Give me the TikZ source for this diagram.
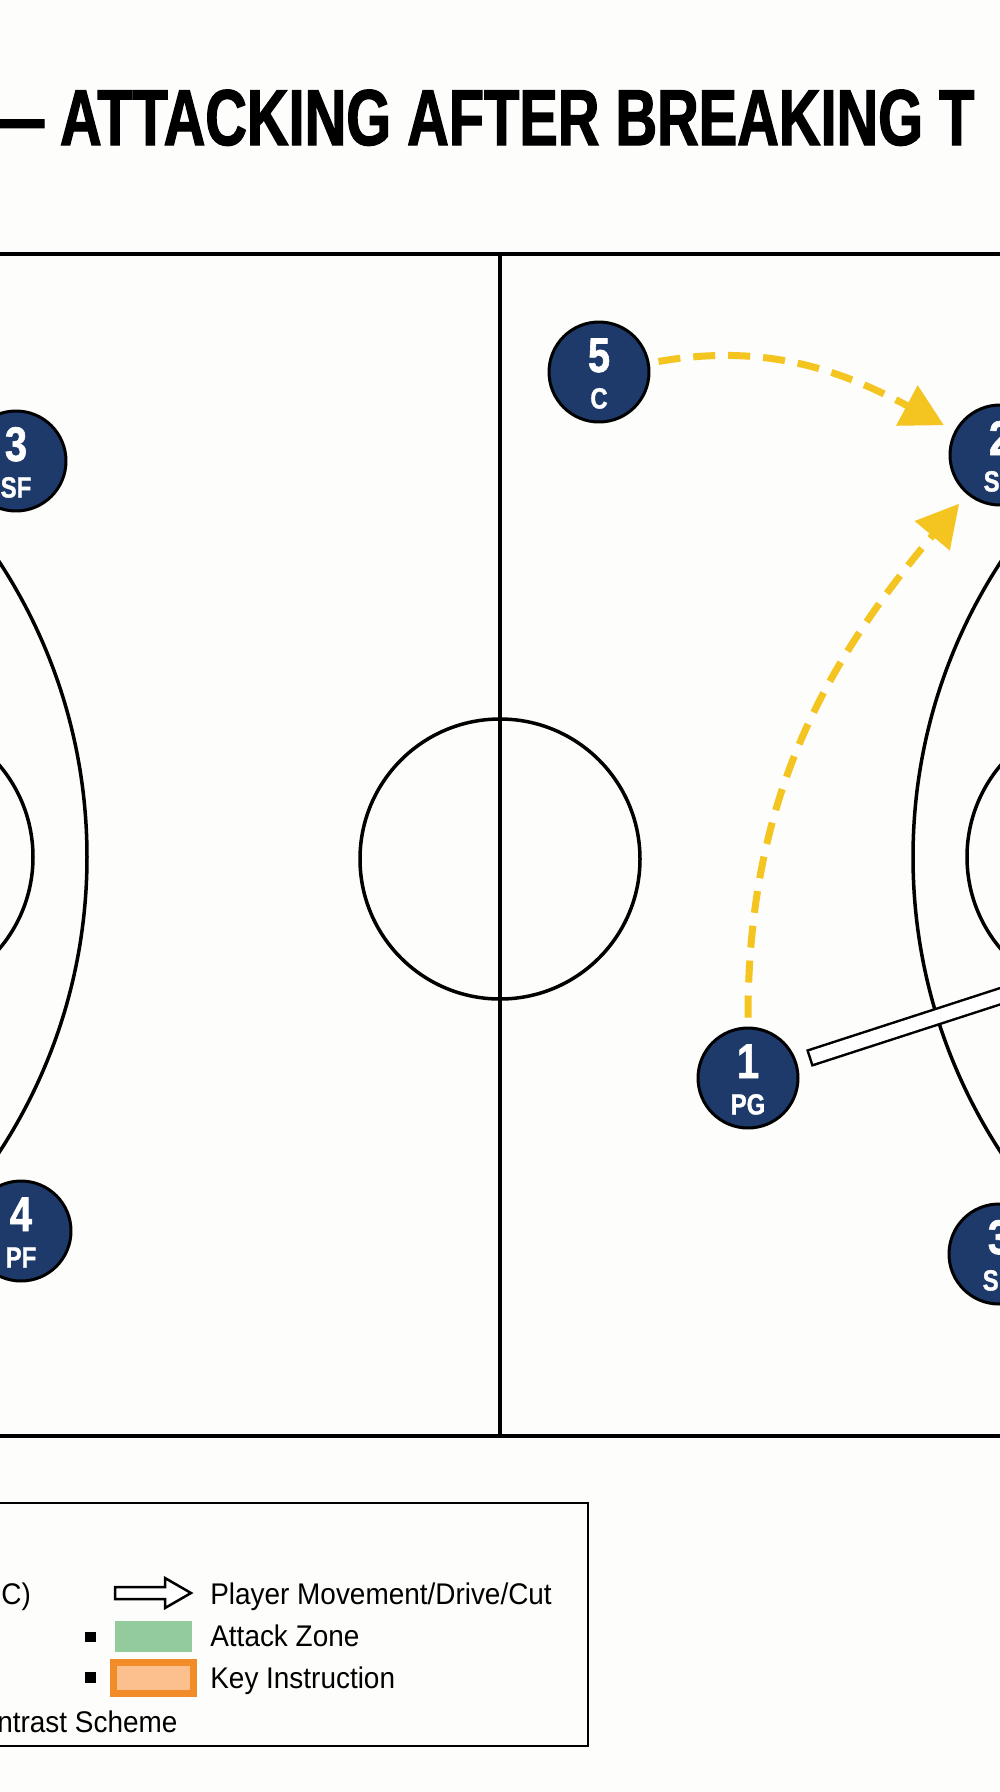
\documentclass[tikz,border=0pt]{standalone}
\usepackage{fontspec}
\setmainfont{Liberation Sans}
\newfontfamily\titlefont{Liberation Sans}[FakeStretch=0.728, FakeBold=1.6]
\newfontfamily\playerfont{Liberation Sans}[FakeStretch=0.82, FakeBold=1.2]
\newfontfamily\legendfont{Liberation Sans}[FakeStretch=0.935]
\usetikzlibrary{arrows.meta,calc}
\definecolor{navy}{HTML}{1D3A6B}
\definecolor{passyellow}{HTML}{F4C520}
\definecolor{zonegreen}{HTML}{93CB9C}
\definecolor{keyorange}{HTML}{F28C28}
\definecolor{keyfill}{HTML}{FCC08E}
\definecolor{paper}{HTML}{FDFDFB}

\begin{document}
\begin{tikzpicture}[x=0.02cm, y=0.02cm,
  court/.style={line width=0.07cm},
  player/.style={circle, draw=black, line width=0.06cm, fill=navy, minimum size=2cm, inner sep=0pt},
  plnum/.style={text=white, inner sep=0pt, anchor=base, font=\playerfont\bfseries\fontsize{27.7}{30}\selectfont},
  plrole/.style={text=white, inner sep=0pt, font=\playerfont\bfseries\fontsize{16.6}{18}\selectfont},
  pass/.style={draw=passyellow, line width=0.14cm, dash pattern=on 0.44cm off 0.26cm,
    -{Triangle[length=0.84cm, width=0.88cm]}, shorten <=0.18cm, shorten >=0.24cm},
  lgd/.style={anchor=base west, inner sep=0pt, font=\legendfont\fontsize{17}{20}\selectfont}]

\useasboundingbox (0,0) rectangle (1000,-1792);
\clip (0,0) rectangle (1000,-1792);
\fill[paper] (0,0) rectangle (1000,-1792);

\node[anchor=base west, inner sep=0pt, font=\titlefont\bfseries\fontsize{45.1}{50}\selectfont] (title) at (-14,-145) {— ATTACKING AFTER BREAKING T};

\draw[court] (-10,-254) -- (1010,-254);
\draw[court] (-10,-1436) -- (1010,-1436);
\draw[court] (500,-254) -- (500,-1436);
\draw[court] (500,-859) circle (140);
\draw[court] (-453,-857) circle (540);
\draw[court] (1453,-857) circle (540);
\draw[court] (-109,-857) circle (142);
\draw[court] (1109,-857) circle (142);

\foreach \name/\x/\y/\n/\r/\ra in {p3l/16/-461/3/SF/base, p4l/21/-1231/4/PF/base,
  p5/599/-372/5/C/base, p1/748/-1078/1/PG/base,
  p2/1000/-455/2/S/base east, p3r/999/-1254/3/S/base east}
{
  \node[player] (\name) at (\x,\y) {};
  \node[plnum] (\name n) at (\name.center) {\n};
  \node[plrole, anchor=\ra] (\name r) at ([yshift=-0.73cm]\name.center) {\r};
}

\coordinate (drvend) at (1189,-935);
\draw[line width=0.36cm] ($(p1)!1.28cm!(drvend)$) -- (drvend);
\draw[white, line width=0.26cm] ($(p1)!1.33cm!(drvend)$) -- (drvend);

\draw[pass] (p5) to[out=10, in=152] (p2);
\draw[pass] (p1) to[out=90, in=230] (p2);

\draw[line width=0.04cm] (-10,-1503) rectangle (588,-1746);
\draw[line width=0.05cm, fill=white] (115,-1587) -- (165,-1587) -- (165,-1578) -- (191,-1593)
  -- (165,-1608) -- (165,-1599) -- (115,-1599) -- cycle;
\fill (85,-1632) rectangle (96,-1642);
\fill (85,-1672) rectangle (96,-1683);
\fill[zonegreen] (115,-1621) rectangle (192,-1652);
\draw[keyorange, line width=0.14cm, fill=keyfill] (113.5,-1662.5) rectangle (193.5,-1693.5);

\node[lgd] (lgdpos) at (1,-1604) {C)};
\node[lgd] (lgdmove) at (210,-1604) {Player Movement/Drive/Cut};
\node[lgd] (lgdzone) at (210,-1646) {Attack Zone};
\node[lgd] (lgdkey) at (210,-1688) {Key Instruction};
\node[lgd] (lgdscheme) at (-3,-1732) {ntrast Scheme};

\end{tikzpicture}
\end{document}
